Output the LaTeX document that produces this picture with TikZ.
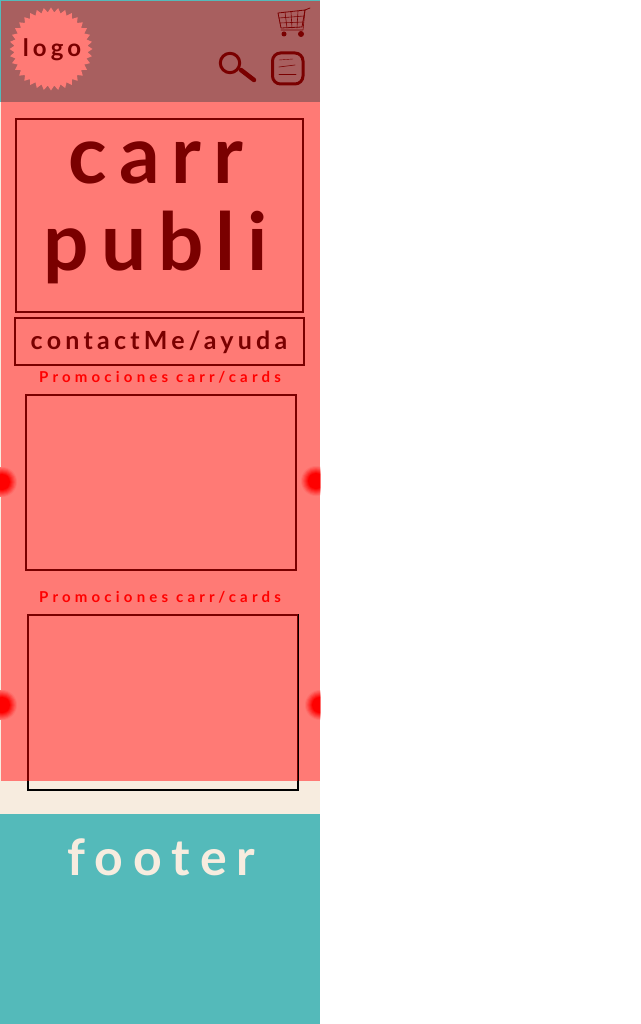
\documentclass[tikz,border=0pt]{standalone}
\usepackage{fontspec}
\setmainfont{Lato}
\newfontfamily\carrfont[LetterSpace=15]{Lato}
\newfontfamily\footfont[LetterSpace=20]{Lato}
\newfontfamily\midfont[LetterSpace=17]{Lato}
\newfontfamily\promofont[LetterSpace=28]{Lato}
\usetikzlibrary{shapes, positioning}
\definecolor{bgsalmon}{HTML}{FF7A75}
\definecolor{bghead}{HTML}{A85F5F}
\definecolor{darkred}{HTML}{7A0000}
\definecolor{footteal}{HTML}{54BABA}
\definecolor{cream}{HTML}{F7ECDF}
\newcommand{\glowdot}[2]{
    \foreach \r in {15,14,...,8}{
        \pgfmathsetmacro{\pct}{100-(\r-8)*13}
        \fill[red!\pct!bgsalmon] (#1,#2) circle (\r);
    }
}

\begin{document}
\begin{tikzpicture}[x=1pt, y=-1pt]
    \tikzset{
        panel/.style = {rectangle, draw=darkred, line width=1.5pt, inner sep=0pt, anchor=north west},
        label/.style = {text=darkred, inner sep=0pt, anchor=base},
        promo/.style = {text=red, inner sep=0pt, anchor=base, font=\promofont\fontsize{15}{15}\selectfont\bfseries},
        icon/.style = {draw=darkred, line cap=round, line join=round}
    }
    \useasboundingbox (0,0) rectangle (640,1024);

    % page bands
    \fill[cream] (0,102) rectangle (320,814);
    \fill[footteal] (0,0) rectangle (320,102);
    \fill[bghead] (1,1) rectangle (320,102);
    \fill[bgsalmon] (1,102) rectangle (320,781);
    \fill[footteal] (0,814) rectangle (320,1024);

    % header
    \node[star, star points=36, star point ratio=1.13, minimum size=83pt, inner sep=0pt, fill=bgsalmon](logo) at (51,49){};
    \node[label, font=\midfont\fontsize{24}{24}\selectfont\bfseries](logotext) at (52,56.5){logo};

    % cart
    \draw[icon, thick] (310,8) -- (305,10) -- (302,27) -- (281,28) -- (278,13) -- (305,10);
    \draw[icon, semithick] (305,10) -- (303,30) -- (281,30);
    \draw[icon, semithick] (279,18) -- (304,16);
    \draw[icon, semithick] (280,23) -- (303,22);
    \draw[icon, semithick] (285,12) -- (287,28);
    \draw[icon, semithick] (291,12) -- (292,28);
    \draw[icon, semithick] (298,11) -- (297,28);
    \fill[darkred] (284,34) circle (2.5);
    \fill[darkred] (301,34) circle (3);

    % search
    \draw[icon, line width=3pt] (230,63) circle (9.7);
    \draw[icon, line width=4.5pt] (241,70) -- (254,80);

    % menu
    \draw[icon, line width=3pt, rounded corners=8pt] (272.5,53) rectangle (303,84);
    \draw[icon, thin] (279,60) -- (293,59);
    \draw[icon, semithick] (279,67) -- (295,65);
    \draw[icon, semithick] (279,74) -- (296,74);

    % top boxes
    \node[panel, minimum width=287pt, minimum height=193pt](carrbox) at (15.2,118.2){};
    \node[label, font=\carrfont\fontsize{80}{80}\selectfont\bfseries](carr) at (156,184){carr};
    \node[label, font=\carrfont\fontsize{80}{80}\selectfont\bfseries](publi) at (156,270){publi};
    \node[panel, minimum width=289pt, minimum height=47pt](contact) at (14.2,317.2){};
    \node[label, font=\midfont\fontsize{25}{25}\selectfont\bfseries](contacttext) at (159,349){contactMe/ayuda};

    % first carousel
    \node[promo](promo_1) at (160,382){Promociones carr/cards};
    \node[panel, minimum width=270pt, minimum height=175pt](card_1) at (25.2,394.2){};
    \begin{scope}
        \clip (0,102) rectangle (320,781);
        \glowdot{2}{482}
        \glowdot{316}{481}
        \glowdot{2}{705}
        \glowdot{320}{705}
    \end{scope}

    % second carousel
    \node[promo](promo_2) at (160,602){Promociones carr/cards};
    \node[panel, draw=black, minimum width=270pt, minimum height=175pt](card_2) at (27.2,614.2){};
    \draw[darkred, line width=1.5pt] (27.9,781) -- (27.9,614.9) -- (297.5,614.9) -- (297.5,781);

    % footer
    \node[text=cream, inner sep=0pt, anchor=base, font=\footfont\fontsize{50}{50}\selectfont\bfseries](footer) at (161.5,875){footer};
\end{tikzpicture}
\end{document}
